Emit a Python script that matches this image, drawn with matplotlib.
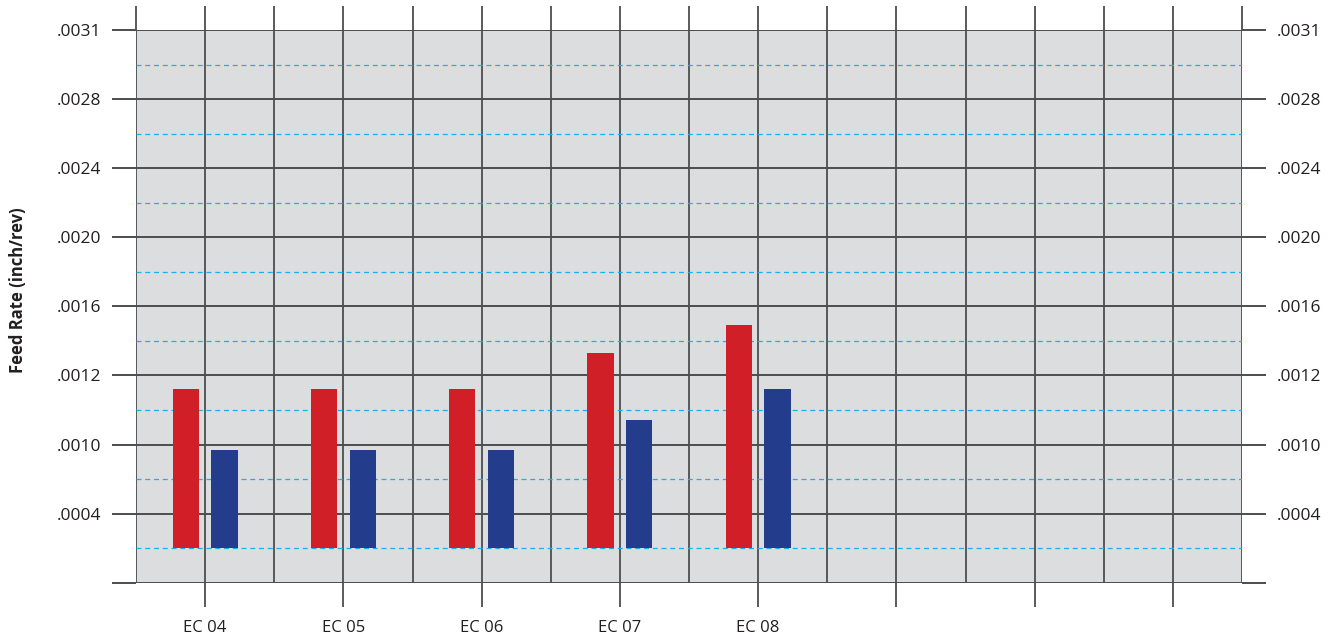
import numpy as np
import matplotlib
matplotlib.use("Agg")
import matplotlib.pyplot as plt

# ---- data ----
categories = ["EC 04", "EC 05", "EC 06", "EC 07", "EC 08", "", "", ""]
red_values = [0.00116, 0.00116, 0.00116, 0.00133, 0.00149]
blue_values = [0.00095, 0.00095, 0.00095, 0.00107, 0.00116]
bar_base = 0.0002
tick_values = [0.0, 0.0004, 0.0010, 0.0012, 0.0016, 0.0020, 0.0024, 0.0028, 0.0031]
tick_labels = ["", ".0004", ".0010", ".0012", ".0016", ".0020", ".0024", ".0028", ".0031"]

# piecewise scale: labelled ticks are evenly spaced
tick_pos = np.arange(len(tick_values), dtype=float)
def fwd(v):
    return np.interp(v, tick_values, tick_pos)
def inv(p):
    return np.interp(p, tick_pos, tick_values)

plt.rcParams['font.family'] = ['Open Sans', 'DejaVu Sans']

GRID = "#4d4d4f"
BG = "#dcdddf"
RED = "#d11f27"
BLUE = "#233d8c"
CYAN = "#1ab0ec"

fig = plt.figure(figsize=(13.4, 6.41), dpi=100)
ax = fig.add_axes([136/1340, 1 - 582.7/641, (1242-136)/1340, (582.7-30)/641])
ax.set_yscale('function', functions=(fwd, inv))
ax.set_facecolor(BG)

nslots = len(categories)
ncells = nslots * 2
ax.set_xlim(0, ncells)
ax.set_ylim(tick_values[0], tick_values[-1])

# grid
for xi in range(ncells + 1):
    ax.axvline(xi, color=GRID, lw=1.3, zorder=1)
for yv in tick_values:
    ax.axhline(yv, color=GRID, lw=1.4, zorder=1)
for k in range(len(tick_values) - 1):
    ax.axhline(inv(k + 0.5), color=CYAN, lw=0.9, ls=(0, (4, 3)), zorder=1.5)

# bars
centers = np.arange(nslots) * 2 + 1
off = 0.28
w = 26 / 69
n = len(red_values)
ax.bar(centers[:n] - off, np.array(red_values) - bar_base, bottom=bar_base,
       width=w, color=RED, zorder=3, linewidth=0)
ax.bar(centers[:n] + off, np.array(blue_values) - bar_base, bottom=bar_base,
       width=w, color=BLUE, zorder=3, linewidth=0)

for s in ax.spines.values():
    s.set_visible(False)

# bottom ticks
ax.set_xticks(centers)
ax.set_xticklabels(categories)
ax.tick_params(axis='x', direction='out', length=17.5, width=1.3, color=GRID,
               pad=9, labelsize=12, labelcolor="#231f20")
# y ticks both sides
ax.set_yticks(tick_values)
ax.set_yticklabels(tick_labels)
ax.yaxis.set_minor_locator(matplotlib.ticker.NullLocator())
ax.tick_params(axis='y', which='both', left=True, right=True, labelleft=True,
               labelright=True, direction='out', length=17, width=1.4,
               color=GRID, pad=8, labelsize=12.5, labelcolor="#231f20")
# top ticks at every cell line
top = ax.secondary_xaxis('top')
top.set_xticks(np.arange(ncells + 1))
top.set_xticklabels([])
top.tick_params(direction='out', length=17.5, width=1.3, color=GRID)
for s in top.spines.values():
    s.set_visible(False)

fig.text(18/1340, 1 - 290/641, "Feed Rate (inch/rev)", rotation=90,
         ha='center', va='center', fontsize=12, fontweight='bold', color="#231f20")

fig.savefig("out.png", dpi=100)
